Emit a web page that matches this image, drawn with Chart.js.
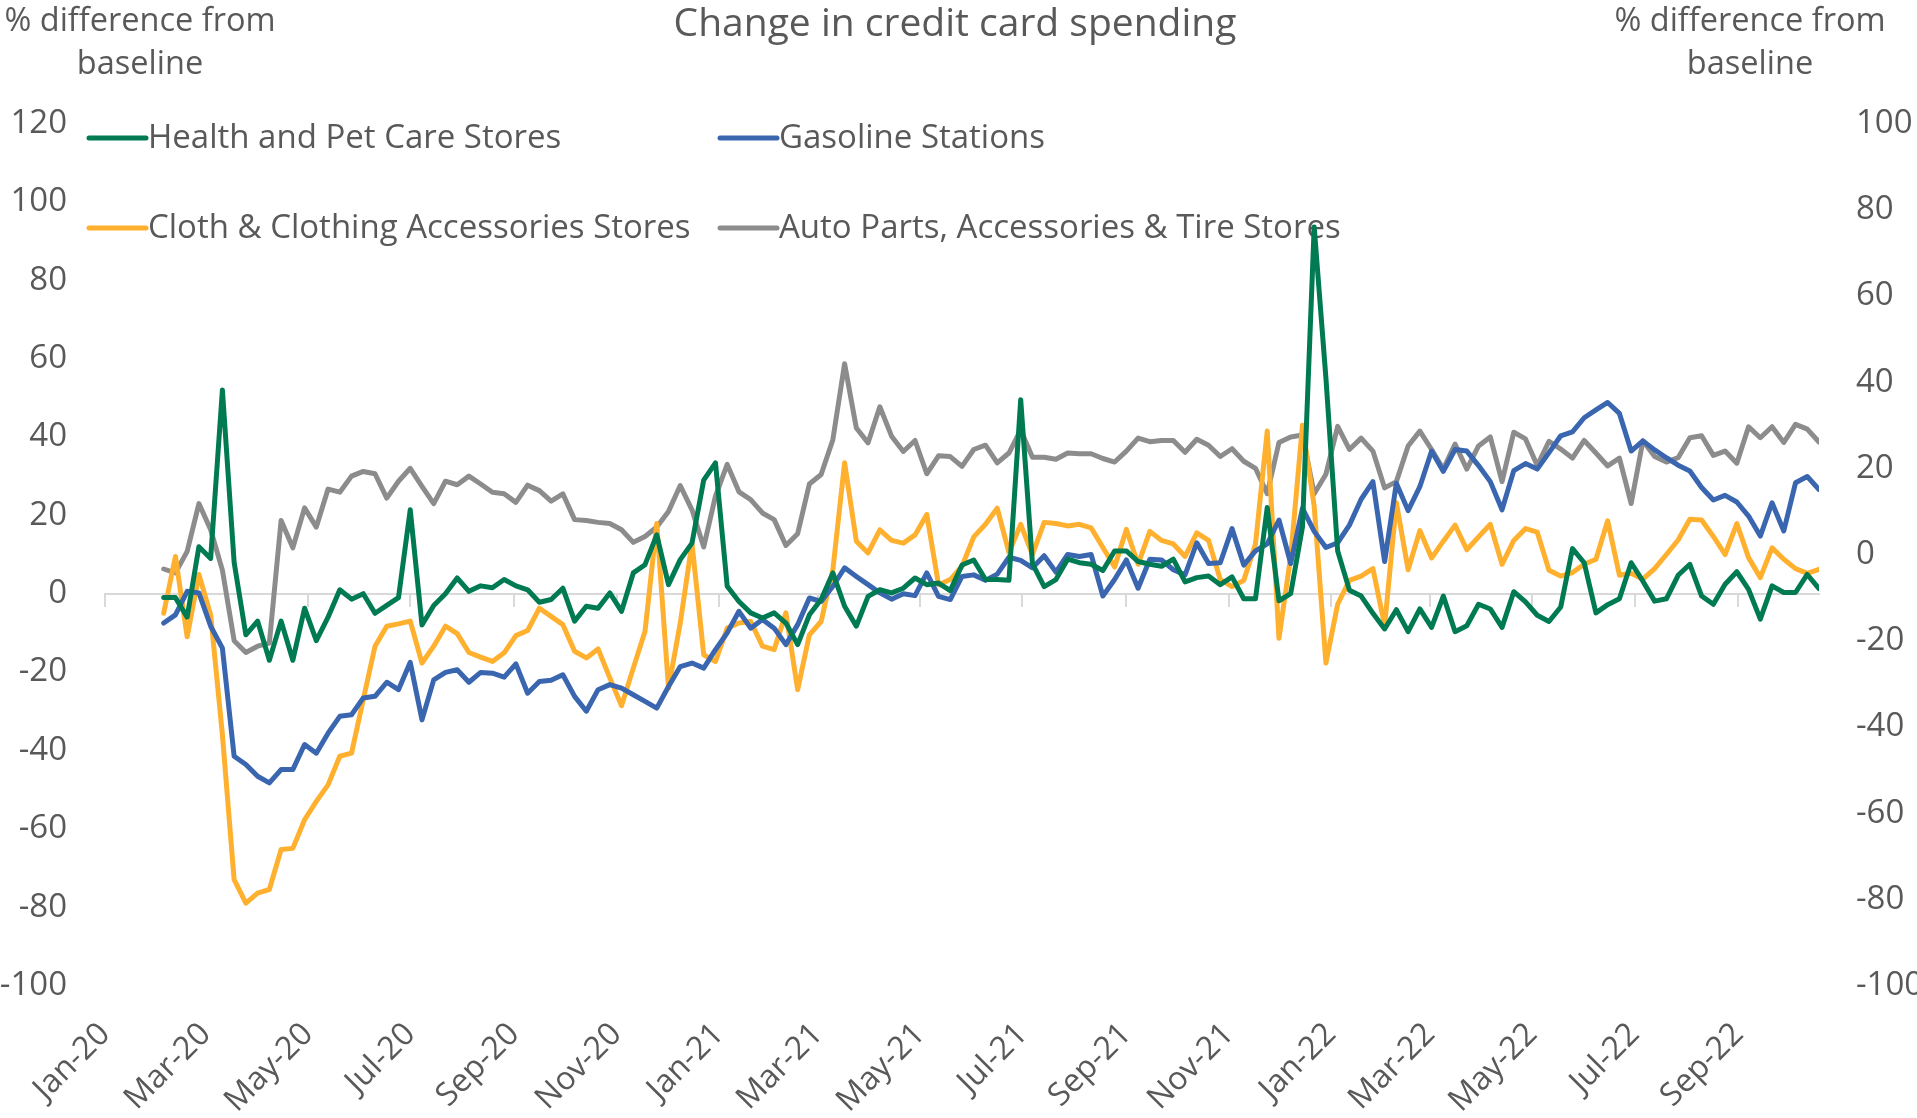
<!DOCTYPE html>
<html lang="en">
  <head>
    <meta charset="UTF-8" />
    <meta name="viewport" content="width=device-width, initial-scale=1.0" />
    <script src="https://cdn.jsdelivr.net/npm/chart.js"></script>
    <title>Change in credit card spending</title>
    <style>
      body { margin: 0; background: #fff; }
      #caixa { width: 1917px; height: 1118px; }
    </style>
  </head>
  <body>
    <div id="caixa"><canvas id="grafico"></canvas></div>

    <script>
      // weekly data, first week ending 2020-02-05
      const primeiraSemana = "2020-02-05";

      const health = [
        -1, -1, -6, 12, 9, 52, 8, -10.5, -7, -17,
        -7, -17, -3.7, -12, -6, 1, -1.4, 0, -5, -3,
        -1, 21.4, -8, -3, 0, 4, 0.6, 2, 1.5, 3.6,
        2, 1, -2.2, -1.5, 1.4, -7, -3.2, -3.7, 0.2, -4.5,
        5.3, 7.4, 15, 2.3, 8.7, 12.9, 29, 33.4, 1.9, -2,
        -4.9, -6.2, -4.9, -7.5, -13, -5.4, -1.5, 5.3, -3.2, -8.3,
        -0.7, 1, 0.2, 1.4, 4, 2.3, 2.7, 0.8, 7.3, 8.6,
        3.6, 3.6, 3.4, 49.5, 7.7, 1.8, 3.6, 8.8, 7.9, 7.5,
        5.9, 10.9, 10.9, 8.2, 7.5, 7, 8.8, 3, 4.1, 4.5,
        2.3, 4.3, -1.3, -1.3, 22, -1.8, 0, 17, 93.6, 55,
        10.9, 0.9, -0.6, -5, -9, -4.1, -9.7, -3.9, -8.6, -0.6,
        -9.7, -8.2, -2.7, -3.9, -8.6, 0.5, -2.1, -5.5, -7.1, -3.4,
        11.5, 7.9, -4.9, -2.8, -1.3, 7.9, 3.2, -1.9, -1.3, 4.7,
        7.5, -0.6, -2.7, 2.4, 5.6, 1.1, -6.5, 2, 0.3, 0.3,
        4.9, 1.3,
      ];

      const gasoline = [
        -7.5, -5.4, 0.6, 0.2, -8.3, -13.9, -41.5, -43.6, -46.6, -48.3,
        -44.9, -44.9, -38.5, -40.7, -35.6, -31.3, -30.9, -26.6, -26.2, -22.6,
        -24.5, -17.5, -32.2, -22, -20.1, -19.4, -22.6, -20.1, -20.3, -21.3,
        -17.9, -25.4, -22.4, -22.1, -20.7, -26.2, -30, -24.5, -23.2, -24.1,
        -25.8, -27.5, -29.2, -23.7, -18.6, -17.7, -19, -14.3, -10, -4.5,
        -8.8, -6.6, -8.8, -13, -7.9, -1.1, -2, 1.9, 6.6, 4.4,
        2.3, 0.2, -1.4, 0, -0.5, 5.3, -0.7, -1.5, 4.4, 4.8,
        3.4, 5, 9.3, 8.5, 6.6, 9.7, 5.5, 10, 9.5, 10,
        -0.6, 3.6, 8.6, 1.4, 8.8, 8.6, 6.1, 4.8, 13, 7.7,
        7.9, 16.6, 7.3, 10.9, 12.7, 18.8, 7.7, 21.8, 15.9, 11.8,
        13, 17.5, 24.1, 28.6, 8.2, 28.2, 21.2, 27.3, 36.4, 31.2,
        36.8, 36.4, 32.7, 28.6, 21.4, 31.4, 33.2, 31.8, 36, 40.3,
        41.3, 44.9, 46.9, 48.8, 46, 36.4, 39, 36.7, 34.7, 32.8,
        31.3, 27.1, 23.9, 25.1, 23.4, 19.8, 14.7, 23.2, 16, 28.3,
        29.9, 26.6,
      ];

      const cloth = [
        -5, 9.5, -11, 4.9, -5.4, -36, -73, -79, -76.4, -75.5,
        -65.3, -65, -57.7, -53, -48.8, -41.5, -40.7, -27, -13.4, -8.3,
        -7.7, -7, -17.7, -13.4, -8.3, -10.2, -15, -16.2, -17.3, -15.1,
        -10.7, -9.4, -3.7, -5.8, -7.9, -14.7, -16.4, -14.1, -21.5, -28.6,
        -19, -9.6, 17.9, -24.1, -7.5, 12.9, -15.6, -17.3, -8.8, -7.5,
        -7.1, -13.4, -14.3, -4.9, -24.5, -10.5, -7.1, 6.1, 33.4, 13.4,
        10.4, 16.3, 13.6, 12.9, 15, 20.2, 2.3, 3.6, 7, 14.5,
        17.7, 21.8, 10.5, 17.7, 10, 18.2, 17.9, 17.3, 17.7, 16.8,
        11.8, 6.8, 16.4, 7.5, 15.9, 13.6, 12.7, 9.5, 15.5, 13.6,
        3.6, 1.8, 3.4, 12.7, 41.5, -11.4, 9.5, 43, 22.3, -17.7,
        -2.7, 3.4, 4.5, 6.4, -8.2, 23.2, 6.1, 16.1, 9.1, 13.4,
        17.5, 11.2, 14.5, 17.7, 7.5, 13.6, 16.6, 15.7, 6, 4.5,
        5.4, 7.5, 8.8, 18.6, 4.7, 5.2, 3.7, 6.4, 10, 13.7,
        19, 18.8, 14.6, 10, 17.9, 9.2, 4.1, 11.7, 8.8, 6.4,
        5.2, 6.2,
      ];

      const autoParts = [
        6.3, 5.3, 10.8, 23, 16.3, 6, -12, -15, -13.4, -12.6,
        18.7, 11.7, 21.9, 17, 26.7, 25.9, 30, 31.2, 30.6, 24.4,
        28.7, 32, 27.4, 23, 28.7, 27.8, 30, 28, 25.9, 25.5,
        23.3, 27.7, 26.3, 23.6, 25.5, 18.9, 18.7, 18.2, 17.9, 16.3,
        13.1, 14.6, 17, 21, 27.6, 21.4, 11.9, 24.9, 33, 26,
        24, 20.6, 18.9, 12.3, 15.3, 28, 30.4, 39.3, 58.7, 42.3,
        38.5, 47.7, 40.2, 36.3, 39.1, 30.6, 35.2, 35, 32.5, 36.8,
        37.9, 33.4, 35.9, 41.8, 34.8, 34.8, 34.3, 35.9, 35.7, 35.7,
        34.5, 33.6, 36.4, 39.7, 38.8, 39.1, 39.1, 36.1, 39.4, 37.9,
        35, 37, 33.8, 32, 25.5, 38.6, 40, 40.5, 25.5, 30.5,
        42.7, 36.8, 39.7, 36.4, 27, 28.6, 37.7, 41.5, 36.8, 31.8,
        38.2, 31.8, 37.7, 40, 28.6, 41.2, 39.5, 32.7, 38.9, 36.9,
        34.6, 39.1, 35.9, 32.6, 34.6, 23, 39, 35, 33.6, 34.7,
        39.8, 40.3, 35.3, 36.4, 33.3, 42.6, 39.8, 42.6, 38.6, 43.2,
        42, 38.7,
      ];

      // x axis labels, every two months
      const datasRotulos = [
        "2020-01-01", "2020-03-01", "2020-05-01", "2020-07-01", "2020-09-01", "2020-11-01",
        "2021-01-01", "2021-03-01", "2021-05-01", "2021-07-01", "2021-09-01", "2021-11-01",
        "2022-01-01", "2022-03-01", "2022-05-01", "2022-07-01", "2022-09-01",
      ];
      const rotulos = [
        "Jan-20", "Mar-20", "May-20", "Jul-20", "Sep-20", "Nov-20",
        "Jan-21", "Mar-21", "May-21", "Jul-21", "Sep-21", "Nov-21",
        "Jan-22", "Mar-22", "May-22", "Jul-22", "Sep-22",
      ];
      const ultimaSemana = "2022-10-19";

      const titulo = "Change in credit card spending";
      const tituloEixo = ["% difference from", "baseline"];
      const corTexto = "#595959";
      const fonte = '"Open Sans", "Noto Sans", sans-serif';

      // days since 1 Jan 2020
      const dia = (s) => (Date.parse(s) - Date.parse("2020-01-01")) / 86400000;
      const diasRotulos = datasRotulos.map(dia);
      const semana0 = dia(primeiraSemana);
      const pontos = (serie) => serie.map((v, i) => ({ x: semana0 + 7 * i, y: v }));

      const linha = (label, serie, cor) => ({
        label: label,
        data: pontos(serie),
        borderColor: cor,
        backgroundColor: cor,
        borderWidth: 5,
        pointRadius: 0,
        tension: 0,
        borderJoinStyle: "round",
        borderCapStyle: "round",
        xAxisID: "x",
        yAxisID: "y",
      });

      // titles + legend (legend in two columns like the original)
      const textos = {
        id: "textos",
        beforeDatasetsDraw(chart) {
          const c = chart.ctx;
          c.save();
          c.fillStyle = corTexto;
          c.textBaseline = "middle";
          c.textAlign = "center";
          c.font = "39px " + fonte;
          c.fillText(titulo, 955, 25);
          c.font = "32.5px " + fonte;
          tituloEixo.forEach((t, k) => {
            c.fillText(t, 140, 22 + 43 * k);
            c.fillText(t, 1750, 22 + 43 * k);
          });
          c.font = "33px " + fonte;
          c.textAlign = "left";
          chart.data.datasets.forEach((ds, k) => {
            const x0 = k % 2 ? 720 : 89;
            const y = k < 2 ? 138 : 228;
            c.strokeStyle = ds.borderColor;
            c.lineWidth = 5;
            c.lineCap = "round";
            c.beginPath();
            c.moveTo(x0, y);
            c.lineTo(x0 + 57, y);
            c.stroke();
            c.fillText(ds.label, x0 + 59, y + 1);
          });
          c.restore();
        },
      };

      const ticksMeses = (scale) => {
        scale.ticks = diasRotulos.map((v) => ({ value: v }));
      };

      const ctx = document.getElementById("grafico");
      const grafico = new Chart(ctx, {
        type: "line",
        data: {
          datasets: [
            linha("Health and Pet Care Stores", health, "#007A52"),
            linha("Gasoline Stations", gasoline, "#3A66AF"),
            linha("Cloth & Clothing Accessories Stores", cloth, "#FFB02E"),
            linha("Auto Parts, Accessories & Tire Stores", autoParts, "#8C8C8C"),
          ],
        },
        options: {
          responsive: true,
          maintainAspectRatio: false,
          animation: false,
          layout: { padding: { top: 123.5, left: 0, right: 0, bottom: 0 } },
          plugins: { legend: { display: false }, title: { display: false }, tooltip: { enabled: false } },
          scales: {
            x: {
              type: "linear",
              position: "bottom",
              min: 0,
              max: dia(ultimaSemana),
              afterBuildTicks: ticksMeses,
              afterFit: (s) => { s.height = 132.5; },
              grid: { display: false, drawTicks: false },
              border: { display: false },
              ticks: {
                autoSkip: false,
                maxRotation: 45,
                minRotation: 45,
                padding: 30,
                color: corTexto,
                font: { family: fonte, size: 32 },
                callback: (v) => rotulos[diasRotulos.indexOf(v)],
              },
            },
            x0: {
              type: "linear",
              position: { y: 0 },
              min: 0,
              max: dia(ultimaSemana),
              afterBuildTicks: ticksMeses,
              grid: { drawOnChartArea: false, drawTicks: true, tickLength: 12, color: "#D9D9D9", lineWidth: 2 },
              border: { display: true, color: "#D9D9D9", width: 2 },
              ticks: { display: false },
            },
            y: {
              position: "left",
              min: -100,
              max: 120,
              afterFit: (s) => { s.width = 105; },
              grid: { display: false, drawTicks: false },
              border: { display: false },
              ticks: { stepSize: 20, padding: 38, color: corTexto, font: { family: fonte, size: 33 } },
            },
            y2: {
              position: "right",
              min: -100,
              max: 100,
              afterFit: (s) => { s.width = 98; },
              grid: { display: false, drawTicks: false },
              border: { display: false },
              ticks: { stepSize: 20, padding: 37, color: corTexto, font: { family: fonte, size: 33 } },
            },
          },
        },
        plugins: [textos],
      });
    </script>
  </body>
</html>
